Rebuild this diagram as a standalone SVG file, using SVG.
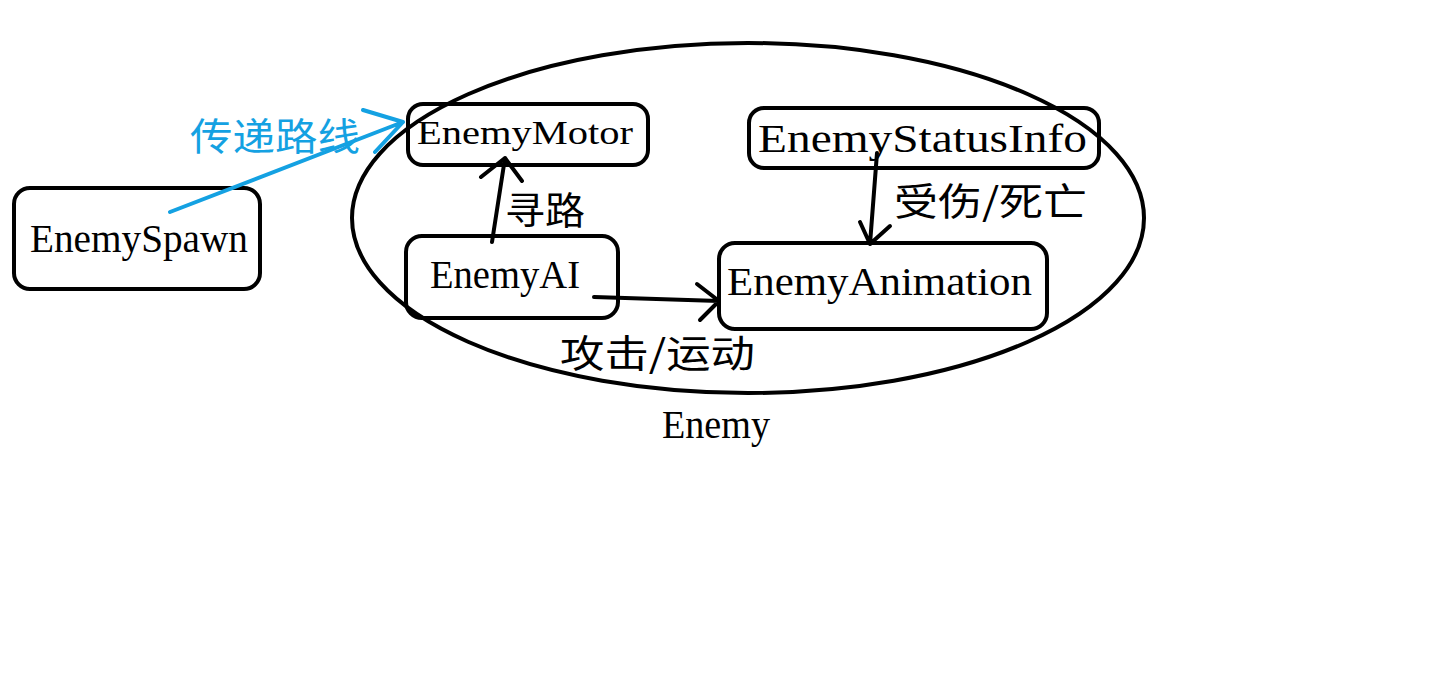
<svg xmlns="http://www.w3.org/2000/svg" width="1434" height="696" viewBox="0 0 1434 696">
<style>
.box{fill:none;stroke:#000;stroke-width:4}
.lbl{font-family:"Liberation Serif",serif;font-size:41px;fill:#000}
.cjk{font-family:"Noto Sans CJK SC",sans-serif;font-size:38px;fill:#000}
.ln{fill:none;stroke:#000;stroke-width:4;stroke-linecap:round;stroke-linejoin:round}
.blue{stroke:#14a1e2}
</style>
<rect width="1434" height="696" fill="#fff"/>
<g id="enemy-group">
<ellipse cx="748" cy="218" rx="396" ry="175" class="box"/>
<text class="lbl" x="662" y="438" textLength="108" lengthAdjust="spacingAndGlyphs">Enemy</text>
</g>
<g id="EnemySpawn">
<rect x="14" y="188" width="246" height="101" rx="16" class="box"/>
<text class="lbl" x="30" y="252" textLength="218" lengthAdjust="spacingAndGlyphs">EnemySpawn</text>
</g>
<g id="EnemyMotor">
<rect x="408" y="104" width="240" height="61" rx="15" class="box"/>
<text class="lbl" x="417" y="144" style="font-size:34px" textLength="216" lengthAdjust="spacingAndGlyphs">EnemyMotor</text>
</g>
<g id="EnemyAI">
<rect x="406" y="236" width="212" height="82" rx="16" class="box"/>
<text class="lbl" x="430" y="288" textLength="150" lengthAdjust="spacingAndGlyphs">EnemyAI</text>
</g>
<g id="EnemyStatusInfo">
<rect x="749" y="108" width="350" height="60" rx="15" class="box"/>
<text class="lbl" x="758" y="152" textLength="329" lengthAdjust="spacingAndGlyphs">EnemyStatusInfo</text>
</g>
<g id="EnemyAnimation">
<rect x="719" y="243" width="328" height="86" rx="16" class="box"/>
<text class="lbl" x="727" y="295" textLength="305" lengthAdjust="spacingAndGlyphs">EnemyAnimation</text>
</g>
<g id="connectors">
<path class="ln blue" d="M170 212 L403 122 M363 110 L403 122 L375 152"/>
<path class="ln" d="M492 242 L505 158 M481 177 L505 158 L522 181"/>
<path class="ln" d="M594 297 L719 301 M697 284 L719 301 L700 320"/>
<path class="ln" d="M877 153 L870 244 M860 222 L870 244 L890 226"/>
<text class="cjk" x="190" y="150" style="fill:#14a1e2" textLength="170" lengthAdjust="spacingAndGlyphs">传递路线</text>
<text class="cjk" x="505" y="224" textLength="80" lengthAdjust="spacingAndGlyphs">寻路</text>
<text class="cjk" x="894" y="215" textLength="193" lengthAdjust="spacingAndGlyphs">受伤/死亡</text>
<text class="cjk" x="560" y="367" textLength="195" lengthAdjust="spacingAndGlyphs">攻击/运动</text>
</g>
</svg>
